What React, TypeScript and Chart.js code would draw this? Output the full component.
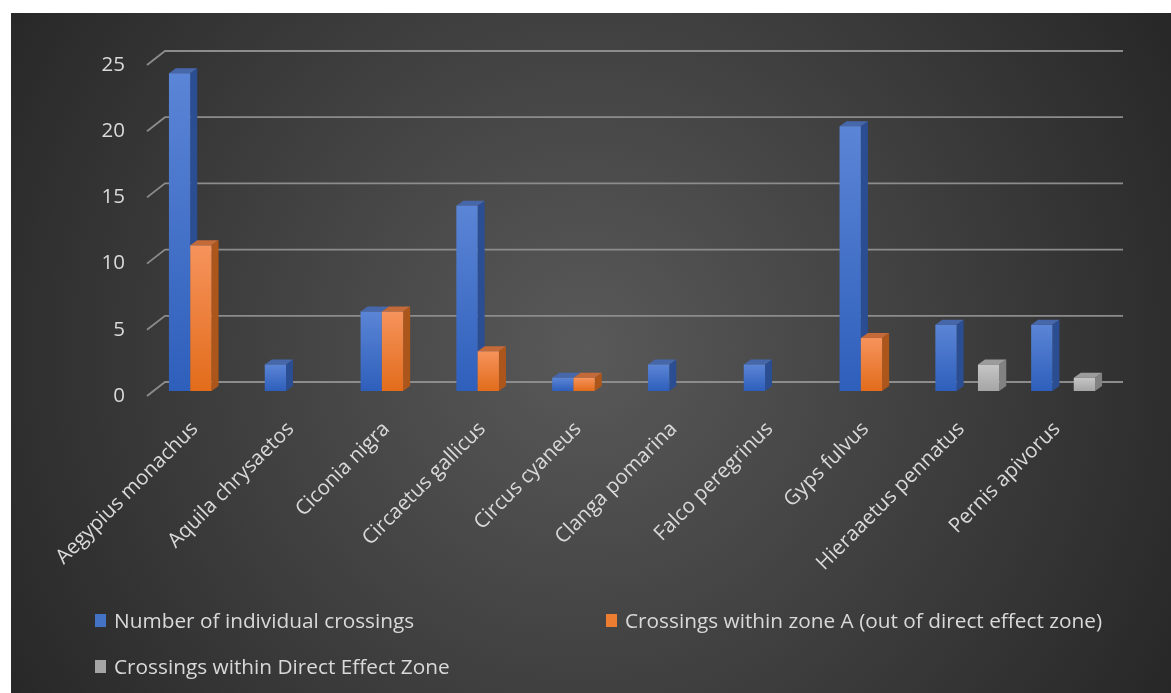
import React, { useEffect, useRef } from "react";
import { Chart, registerables } from "chart.js";

Chart.register(...registerables);

const categories = [
  "Aegypius monachus",
  "Aquila chrysaetos",
  "Ciconia nigra",
  "Circaetus gallicus",
  "Circus cyaneus",
  "Clanga pomarina",
  "Falco peregrinus",
  "Gyps fulvus",
  "Hieraaetus pennatus",
  "Pernis apivorus",
];
const individualCrossings = [24, 2, 6, 14, 1, 2, 2, 20, 5, 5];
const zoneACrossings = [11, null, 6, 3, 1, null, null, 4, null, null];
const directEffectCrossings = [null, null, null, null, null, null, null, null, 2, 1];
const seriesNames = [
  "Number of individual crossings",
  "Crossings within zone A (out of direct effect zone)",
  "Crossings within Direct Effect Zone",
];
const yTicks = [0, 5, 10, 15, 20, 25];

const FONT = "'Open Sans', 'Noto Sans', sans-serif";
const TEXT = "#d9d9d9";

const palettes = [
  { top: "#5b85d6", bottom: "#2e5fbb", side: "#2b4e93", cap: "#4767ab", key: "#4472c4" },
  { top: "#f6935c", bottom: "#e26c1b", side: "#ad561c", cap: "#c46a38", key: "#ed7d31" },
  { top: "#c6c6c6", bottom: "#a5a5a5", side: "#828282", cap: "#9c9c9c", key: "#a5a5a5" },
];

// 3D geometry
const WALL_DX = 18;
const WALL_DY = -14;
const BAR_OX = 6;
const BAR_OY = -5;
const BAR_DX = 7;
const BAR_DY = -5;

const threeD = {
  id: "threeD",
  beforeDatasetsDraw(chart: any) {
    const { ctx, chartArea } = chart;
    const y = chart.scales.y;
    ctx.save();
    ctx.strokeStyle = "#8c8c8c";
    ctx.lineWidth = 1.8;
    yTicks.forEach((v) => {
      const py = y.getPixelForValue(v);
      ctx.beginPath();
      ctx.moveTo(chartArea.left, py);
      ctx.lineTo(chartArea.left + WALL_DX, py + WALL_DY);
      ctx.lineTo(chartArea.right + WALL_DX, py + WALL_DY);
      ctx.stroke();
    });
    ctx.restore();
  },
  afterDatasetsDraw(chart: any) {
    const { ctx } = chart;
    const n = chart.data.labels.length;
    ctx.save();
    for (let i = 0; i < n; i++) {
      chart.data.datasets.forEach((ds: any, di: number) => {
        const v = ds.data[i];
        if (v == null || v === 0) return;
        const el = chart.getDatasetMeta(di).data[i] as any;
        if (!el) return;
        const p = el.getProps(["x", "y", "base", "width"], true);
        const l = p.x - p.width / 2 + BAR_OX;
        const r = p.x + p.width / 2 + BAR_OX;
        const t = p.y + BAR_OY;
        const b = p.base + BAR_OY;
        const pal = palettes[di];
        // side face
        ctx.fillStyle = pal.side;
        ctx.beginPath();
        ctx.moveTo(r, t);
        ctx.lineTo(r + BAR_DX, t + BAR_DY);
        ctx.lineTo(r + BAR_DX, b + BAR_DY);
        ctx.lineTo(r, b);
        ctx.closePath();
        ctx.fill();
        // top face
        ctx.fillStyle = pal.cap;
        ctx.beginPath();
        ctx.moveTo(l, t);
        ctx.lineTo(l + BAR_DX, t + BAR_DY);
        ctx.lineTo(r + BAR_DX, t + BAR_DY);
        ctx.lineTo(r, t);
        ctx.closePath();
        ctx.fill();
        // front face
        const fg = ctx.createLinearGradient(0, t, 0, b);
        fg.addColorStop(0, pal.top);
        fg.addColorStop(1, pal.bottom);
        ctx.fillStyle = fg;
        ctx.fillRect(l, t, r - l, b - t);
      });
    }
    ctx.restore();
  },
};

export default function App() {
  const ref = useRef<HTMLCanvasElement | null>(null);

  useEffect(() => {
    if (!ref.current) return;
    const data = [individualCrossings, zoneACrossings, directEffectCrossings];
    const chart = new Chart(ref.current, {
      type: "bar",
      data: {
        labels: categories,
        datasets: data.map((d, i) => ({
          label: seriesNames[i],
          data: d,
          backgroundColor: "rgba(0,0,0,0)",
          borderWidth: 0,
          categoryPercentage: 0.667,
          barPercentage: 1.0,
        })),
      },
      options: {
        responsive: false,
        animation: false,
        devicePixelRatio: 1,
        layout: { padding: { top: 52, right: 66, left: 0, bottom: 0 } },
        plugins: {
          legend: { display: false },
          tooltip: { enabled: false },
          title: { display: false },
        },
        scales: {
          x: {
            grid: { display: false, drawTicks: false },
            border: { display: false },
            ticks: {
              color: TEXT,
              font: { family: FONT, size: 20.5 },
              minRotation: 45,
              maxRotation: 45,
              autoSkip: false,
              padding: 21,
            },
            afterFit: (s: any) => {
              s.height = 297;
            },
          },
          y: {
            min: 0,
            max: 25,
            grid: { display: false, drawTicks: false },
            border: { display: false },
            ticks: {
              stepSize: 5,
              color: TEXT,
              font: { family: FONT, size: 20.5 },
              padding: 22,
            },
            afterFit: (s: any) => {
              s.width = 136;
            },
          },
        },
      },
      plugins: [threeD],
    });
    return () => chart.destroy();
  }, []);

  const legendItems = [
    { left: 84, top: 607, i: 0 },
    { left: 595, top: 607, i: 1 },
    { left: 84, top: 653, i: 2 },
  ];

  return (
    <div
      style={{
        position: "absolute",
        left: 11,
        top: 13,
        width: 1160,
        height: 680,
        background:
          "radial-gradient(circle 690px at 574px 337px, #595959 0%, #262626 100%)",
        overflow: "hidden",
      }}
    >
      <canvas ref={ref} width={1160} height={680} style={{ display: "block" }} />
      {legendItems.map((it) => (
        <div
          key={it.i}
          style={{
            position: "absolute",
            left: it.left,
            top: it.top - 12,
            height: 24,
            display: "flex",
            alignItems: "center",
            fontFamily: FONT,
            fontSize: 20.8,
            color: TEXT,
            whiteSpace: "nowrap",
          }}
        >
          <span
            style={{
              display: "inline-block",
              width: 11,
              height: 13,
              background: palettes[it.i].key,
              marginRight: 8,
            }}
          />
          <span>{seriesNames[it.i]}</span>
        </div>
      ))}
    </div>
  );
}
